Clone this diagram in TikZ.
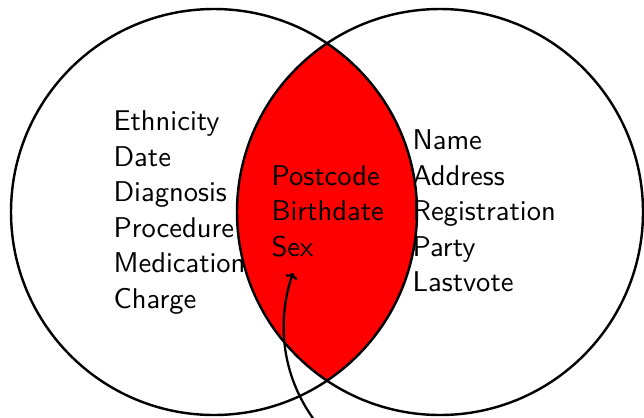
\documentclass[tikz,border=0pt]{standalone}
\usetikzlibrary{arrows.meta}
\begin{document}
\begin{tikzpicture}[x=0.35pt,y=0.35pt,
  setline/.style={line width=0.85pt},
  lensline/.style={line width=0.45pt},
  lbl/.style={anchor=base west,inner sep=0pt,font=\fontsize{10}{12}\selectfont\sffamily},
  pointer/.style={line width=0.8pt,-{To[length=2pt,width=4.4pt]}}]
\useasboundingbox (0,0) rectangle (644,417);
% the two sets
\coordinate (cl) at (214,205);
\coordinate (cr) at (440,205);
% shared attributes: the lens where the sets overlap
\begin{scope}
  \clip (cl) circle[radius=203];
  \fill[red] (cr) circle[radius=203];
\end{scope}
\draw[setline] (cl) circle[radius=203];
\draw[setline] (cr) circle[radius=203];
\begin{scope}
  \clip (cl) circle[radius=203];
  \draw[lensline] (cr) circle[radius=203];
\end{scope}
\begin{scope}
  \clip (cr) circle[radius=203];
  \draw[lensline] (cl) circle[radius=203];
\end{scope}
% medical attributes
\node[lbl] (eth) at (113,286.5) {Ethnicity};
\node[lbl] (dat) at (113,251) {Date};
\node[lbl] (dia) at (113,215.5) {Diagnosis};
\node[lbl] (pro) at (113,180) {Procedure};
\node[lbl] (med) at (113,144.5) {Medication};
\node[lbl] (chg) at (113,109) {Charge};
% quasi-identifiers
\node[lbl] (pc) at (271,232) {Postcode};
\node[lbl] (bd) at (271,196.5) {Birthdate};
\node[lbl] (sx) at (271,161) {Sex};
% voter attributes
\node[lbl] (nam) at (412,267.5) {Name};
\node[lbl] (adr) at (412,232) {Address};
\node[lbl] (reg) at (412,196.5) {Registration};
\node[lbl] (par) at (412,161) {Party};
\node[lbl] (lv) at (412,125.5) {Lastvote};
% pointer to the shared attributes
\coordinate (src) at (318,-8);
\coordinate (tip) at (293,144);
\draw[pointer] (src) .. controls (275,47) and (280,107) .. (tip);
\end{tikzpicture}
\end{document}
